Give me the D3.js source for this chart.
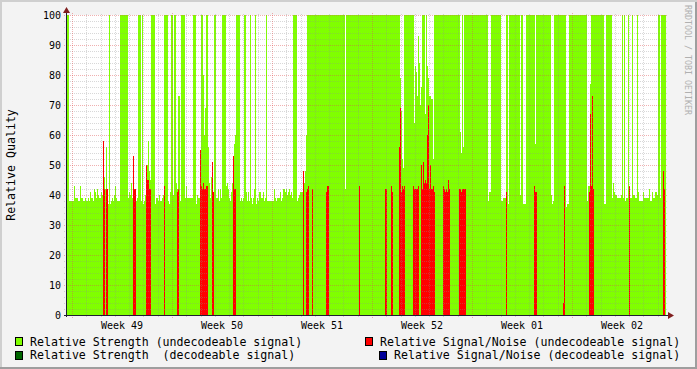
<!DOCTYPE html>
<html>
<head>
<meta charset="utf-8">
<script src="https://cdn.jsdelivr.net/npm/d3@7"></script>
<style>
body { margin: 0; background: #f3f3f3; }
svg { display: block; }
text { font-family: "DejaVu Sans Mono", monospace; }
</style>
</head>
<body>
<svg width="697" height="369"></svg>
<script>
// one sample every 6048 s (600 samples = 6 weeks)
var startTime = new Date("2011-12-04T13:55:12Z");
var stepSeconds = 6048;
var sampleCount = 600;

// Relative Strength (undecodeable): [sample, value] - value holds until next entry
var strengthUndecodeable = [
  [0,100],[3,38],[8,43],[9,39],[12,38],[14,43],[15,39],[17,38],[19,39],[20,38],[22,39],[23,38],
  [24,41],[25,39],[27,38],[28,42],[29,41],[30,39],[31,42],[32,40],[33,39],[35,41],[36,40],[37,42],
  [38,46],[39,42],[40,56],[41,42],[42,37],[43,100],[44,37],[45,38],[46,39],[47,38],[48,40],[49,43],
  [50,39],[51,38],[54,100],[62,39],[63,41],[64,40],[65,44],[66,39],[67,42],[70,38],[71,39],[72,100],
  [75,38],[76,100],[77,37],[78,38],[79,40],[80,45],[81,50],[82,58],[83,48],[84,45],[85,100],[89,37],
  [90,39],[92,38],[93,40],[94,38],[96,39],[97,40],[98,100],[102,38],[103,37],[104,41],[105,100],
  [107,40],[108,100],[110,44],[111,42],[112,73],[114,38],[115,100],[119,39],[120,43],[121,39],
  [127,100],[130,37],[131,40],[132,39],[134,43],[135,100],[137,80],[138,60],[139,69],[140,100],
  [142,56],[143,44],[144,39],[145,46],[147,39],[148,100],[150,39],[152,42],[153,38],[154,42],[155,39],
  [156,100],[160,43],[161,44],[162,42],[163,39],[164,38],[165,41],[166,44],[167,50],[168,57],[169,60],
  [170,100],[174,38],[175,39],[176,38],[177,39],[178,100],[180,41],[181,38],[182,41],[183,38],
  [184,100],[185,39],[186,37],[187,39],[188,42],[189,100],[190,37],[191,39],[192,38],[193,41],
  [195,39],[197,41],[198,38],[199,39],[200,100],[201,38],[208,42],[209,39],[210,38],[211,39],[214,41],
  [215,38],[216,39],[217,42],[219,41],[220,42],[221,40],[222,41],[223,42],[224,40],[225,41],[226,39],
  [227,100],[231,38],[232,39],[233,40],[234,41],[237,43],[238,44],[239,48],[240,60],[241,100],[279,42],
  [280,100],[334,79],[335,68],[336,52],[337,49],[338,100],[348,64],[349,83],[350,81],[351,73],[352,93],
  [353,84],[354,70],[355,76],[356,100],[359,67],[360,100],[361,83],[362,79],[363,73],[365,72],[367,52],
  [368,100],[394,61],[395,54],[396,100],[397,56],[398,100],[422,38],[423,41],[425,100],[435,38],
  [437,39],[440,100],[442,37],[443,100],[454,40],[455,100],[457,37],[460,100],[469,57],[470,100],
  [485,40],[486,37],[487,38],[488,100],[500,36],[501,37],[503,100],[521,38],[522,43],[524,77],
  [525,100],[538,37],[540,100],[546,39],[547,44],[548,41],[549,40],[551,39],[555,40],[556,100],
  [557,39],[558,100],[559,38],[560,39],[562,100],[563,39],[566,100],[567,40],[569,39],[571,100],
  [572,41],[573,38],[577,41],[578,39],[583,42],[584,38],[586,41],[587,39],[589,41],[591,40],
  [592,100],[594,39],[595,100]
];
// Relative Strength (decodeable): [sample, value], one sample wide
var strengthDecodeable = [];
// Relative Signal/Noise (undecodeable): [sample, value], one sample wide
var snrUndecodeable = [
  [37,58],[38,42],[40,42],[41,42],[67,53],[68,42],[69,42],[80,50],[81,45],[82,45],[83,42],[84,42],
  [98,43],[111,41],[112,42],[134,55],[135,43],[136,42],[137,44],[138,42],[139,42],[140,43],[141,43],
  [146,51],[147,41],[167,53],[168,42],[169,42],[237,48],[240,41],[241,42],[242,43],[246,42],[260,41],
  [261,43],[262,43],[293,43],[319,42],[320,42],[325,43],[326,41],[333,56],[334,69],[335,41],[336,43],
  [337,42],[338,43],[347,43],[348,42],[349,42],[350,42],[351,42],[352,43],[355,50],[356,42],[357,51],
  [358,44],[359,45],[360,44],[361,60],[362,70],[363,42],[364,50],[365,42],[366,42],[367,43],[368,41],
  [377,43],[378,42],[379,41],[380,42],[381,41],[382,45],[383,42],[393,42],[394,42],[395,41],[396,42],
  [397,42],[398,42],[399,42],[440,41],[468,43],[469,41],[470,41],[497,4],[498,43],[523,41],[524,67],
  [525,43],[526,73],[527,42],[563,43],[597,48],[598,42]
];
// Relative Signal/Noise (decodeable)
var snrDecodeable = [];

var yMajorTicks = [0, 10, 20, 30, 40, 50, 60, 70, 80, 90, 100];
var legendItems = [
  {label: "Relative Strength (undecodeable signal)", color: "#80ff00"},
  {label: "Relative Signal/Noise (undecodeable signal)", color: "#ff0000"},
  {label: "Relative Strength  (decodeable signal)", color: "#006600"},
  {label: "Relative Signal/Noise (decodeable signal)", color: "#000099"}
];

var svg = d3.select("svg"),
    width = +svg.attr("width"),
    height = +svg.attr("height");

var plotLeft = 66, plotRight = 666, plotTop = 15, plotBottom = 315;
var endTime = new Date(+startTime + sampleCount * stepSeconds * 1000);

var x = d3.scaleUtc().domain([startTime, endTime]).range([plotLeft, plotRight]);
var y = d3.scaleLinear().domain([0, 100]).range([plotBottom, plotTop]);

function sampleTime(i) { return new Date(+startTime + i * stepSeconds * 1000); }

// expand step lists to one value per sample
function fromSteps(steps) {
  var out = [], k = 0;
  for (var i = 0; i <= sampleCount; i++) {
    while (k + 1 < steps.length && steps[k + 1][0] <= i) k++;
    out.push({i: i, v: steps.length ? steps[k][1] : 0});
  }
  return out;
}
function fromPoints(points) {
  var out = [];
  for (var i = 0; i <= sampleCount; i++) out.push({i: i, v: 0});
  points.forEach(function(p) { out[p[0]].v = p[1]; });
  return out;
}

// background + bevel
svg.append("rect").attr("width", width).attr("height", height).attr("fill", "#f3f3f3");
svg.append("path").attr("d", "M0,0H" + width + "V2H2V" + (height - 2) + "H0Z").attr("fill", "#cfcfcf");
svg.append("path").attr("d", "M" + width + "," + height + "H0V" + (height - 2) + "H" + (width - 2) + "V2H" + width + "Z").attr("fill", "#9e9e9e");

svg.append("rect").attr("x", plotLeft).attr("y", plotTop)
    .attr("width", plotRight - plotLeft).attr("height", plotBottom - plotTop).attr("fill", "#ffffff");

var area = d3.area()
    .x(function(d) { return x(sampleTime(d.i)); })
    .y0(y(0))
    .y1(function(d) { return y(d.v); })
    .curve(d3.curveStepAfter);

var series = [
  {data: fromSteps(strengthUndecodeable), color: "#80ff00"},
  {data: fromPoints(strengthDecodeable), color: "#006600"},
  {data: fromPoints(snrUndecodeable), color: "#ff0000"},
  {data: fromPoints(snrDecodeable), color: "#000099"}
];
svg.append("g").selectAll("path")
    .data(series)
    .enter().append("path")
      .attr("d", function(s) { return area(s.data); })
      .attr("fill", function(s) { return s.color; })
      .attr("shape-rendering", "crispEdges");

// grid (drawn over the data, dotted)
var minorColor = "rgba(143,143,143,0.35)", majorColor = "rgba(222,79,79,0.45)";
var grid = svg.append("g").attr("shape-rendering", "crispEdges").attr("stroke-dasharray", "1,1");
var minorY = d3.range(0, 101, 2).filter(function(v) { return v % 10 !== 0; });
grid.selectAll(".hmin").data(minorY).enter().append("line")
    .attr("x1", plotLeft - 2).attr("x2", plotRight + 2)
    .attr("y1", function(d) { return Math.round(y(d)) + 0.5; })
    .attr("y2", function(d) { return Math.round(y(d)) + 0.5; })
    .attr("stroke", minorColor);
var days = d3.utcDay.range(startTime, endTime).filter(function(d) { return d.getUTCDay() !== 1; });
grid.selectAll(".vmin").data(days).enter().append("line")
    .attr("x1", function(d) { return Math.round(x(d)) + 0.5; })
    .attr("x2", function(d) { return Math.round(x(d)) + 0.5; })
    .attr("y1", plotBottom + 2).attr("y2", plotTop - 2)
    .attr("stroke", minorColor);
grid.selectAll(".hmaj").data(yMajorTicks).enter().append("line")
    .attr("x1", plotLeft - 2).attr("x2", plotRight + 2)
    .attr("y1", function(d) { return Math.round(y(d)) + 0.5; })
    .attr("y2", function(d) { return Math.round(y(d)) + 0.5; })
    .attr("stroke", majorColor);
var mondays = d3.utcMonday.range(startTime, endTime);
grid.selectAll(".vmaj").data(mondays).enter().append("line")
    .attr("x1", function(d) { return Math.round(x(d)) + 0.5; })
    .attr("x2", function(d) { return Math.round(x(d)) + 0.5; })
    .attr("y1", plotBottom + 3).attr("y2", plotTop - 2)
    .attr("stroke", majorColor);

// axes
svg.append("line").attr("x1", plotLeft - 2).attr("x2", plotRight + 3)
    .attr("y1", plotBottom + 0.5).attr("y2", plotBottom + 0.5)
    .attr("stroke", "#1f1f2f").attr("shape-rendering", "crispEdges");
svg.append("line").attr("x1", plotLeft + 0.5).attr("x2", plotLeft + 0.5)
    .attr("y1", plotBottom + 2).attr("y2", plotTop - 3)
    .attr("stroke", "#1f1f2f").attr("shape-rendering", "crispEdges");
svg.append("path").attr("d", "M668,312L674,315.5L668,319Z").attr("fill", "#801f1f");
svg.append("path").attr("d", "M63,13L66.5,7L70,13Z").attr("fill", "#801f1f");

// tick labels
svg.append("g").selectAll("text").data(yMajorTicks).enter().append("text")
    .attr("x", 61).attr("y", function(d) { return y(d) + 3.6; })
    .attr("text-anchor", "end").attr("font-size", "10px").attr("fill", "#000")
    .text(function(d) { return d; });

var weekFormat = d3.utcFormat("Week %V");
svg.append("g").selectAll("text").data(mondays).enter().append("text")
    .attr("x", function(d) { return x(d3.utcHour.offset(d, 84)); })
    .attr("y", 328.5)
    .attr("text-anchor", "middle").attr("font-size", "10px").attr("fill", "#000")
    .text(function(d) { return weekFormat(d); });

// y title
svg.append("text")
    .attr("transform", "translate(15," + ((plotTop + plotBottom) / 2) + ") rotate(-90)")
    .attr("text-anchor", "middle").attr("font-size", "11.6px").attr("fill", "#000")
    .text("Relative Quality");

// watermark
svg.append("text")
    .attr("transform", "translate(685,5) rotate(90)")
    .attr("font-size", "8.3px").attr("fill", "#b0b0b0")
    .text("RRDTOOL / TOBI OETIKER");

// legend
var legendPos = [
  {bx: 15, tx: 30, row: 0},
  {bx: 365, tx: 380, row: 0},
  {bx: 15, tx: 30, row: 1},
  {bx: 379, tx: 394, row: 1}
];
var legend = svg.append("g").selectAll("g").data(legendItems).enter().append("g");
legend.append("rect")
    .attr("x", function(d, i) { return legendPos[i].bx + 0.5; })
    .attr("y", function(d, i) { return 337.5 + legendPos[i].row * 13.5; })
    .attr("width", 7).attr("height", 8)
    .attr("fill", function(d) { return d.color; })
    .attr("stroke", "#000").attr("shape-rendering", "crispEdges");
legend.append("text")
    .attr("x", function(d, i) { return legendPos[i].tx; })
    .attr("y", function(d, i) { return 345.5 + legendPos[i].row * 13.5; })
    .attr("font-size", "11.6px").attr("fill", "#000")
    .style("white-space", "pre")
    .text(function(d) { return d.label; });
</script>
</body>
</html>
